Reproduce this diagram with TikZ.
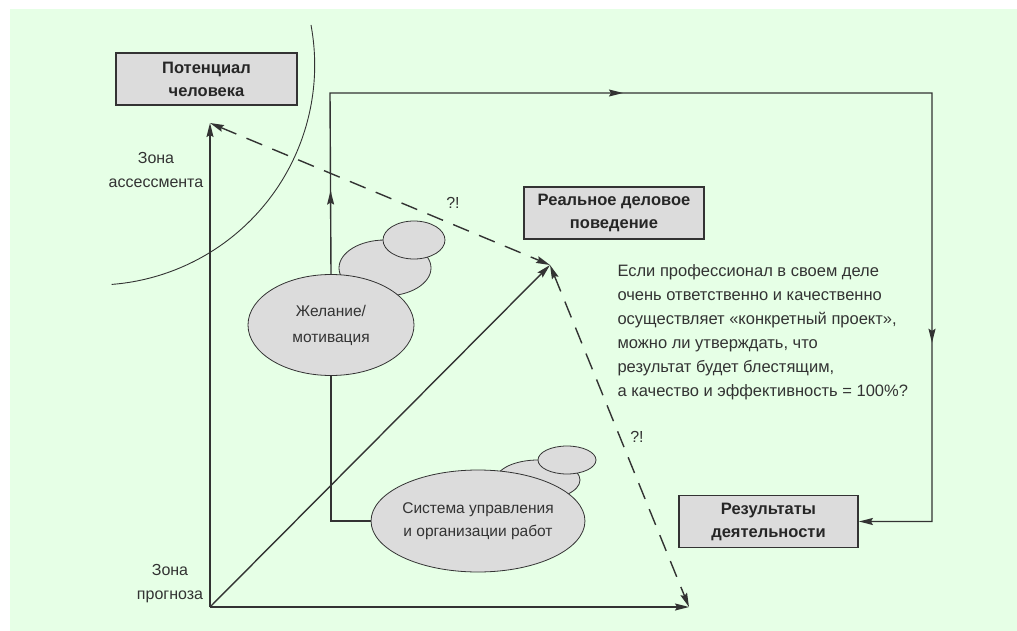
\documentclass[tikz,border=0pt]{standalone}
\usepackage{fontspec}
\setmainfont{Liberation Sans}
\usetikzlibrary{arrows.meta,decorations.markings,shapes.geometric}
\definecolor{bggreen}{HTML}{E6FFE6}
\definecolor{boxgray}{HTML}{DCDCDC}
\definecolor{linegray}{HTML}{333333}
\definecolor{textgray}{HTML}{333333}

\begin{document}
\begin{tikzpicture}[x=1pt,y=-1pt,
    font=\fontsize{16}{24}\selectfont,text=textgray,
    line/.style={draw=linegray,line width=1.4pt},
    tip/.style={-{Stealth[length=14pt,width=7pt,inset=2pt]}},
    twotips/.style={{Stealth[length=14pt,width=7pt,inset=2pt]}-{Stealth[length=14pt,width=7pt,inset=2pt]}},
    dashline/.style={line,dash pattern=on 17pt off 11pt},
    midarrows/.style={postaction={decorate},decoration={markings,
      mark=at position 0.065 with {\arrow{Stealth[length=14pt,width=7pt,inset=2pt]}},
      mark=at position 0.369 with {\arrow{Stealth[length=14pt,width=7pt,inset=2pt]}},
      mark=at position 0.804 with {\arrow{Stealth[length=14pt,width=7pt,inset=2pt]}}}},
    box/.style={draw=linegray,line width=1.8pt,fill=boxgray,align=center,
      minimum height=52pt,font=\fontsize{16.5}{23}\selectfont\bfseries,text=black!85},
    blob/.style={ellipse,draw=linegray,line width=0.8pt,fill=boxgray,inner sep=0pt,
      align=center,font=\fontsize{15.5}{26}\selectfont}]
    \useasboundingbox (0,0) rectangle (1017,631);
    \fill[bggreen] (10,9) rectangle (1017,631);

    % axes and points
    \coordinate (orig) at (210,607);
    \coordinate (pot) at (210,123);
    \coordinate (act) at (550,265);
    \coordinate (prog) at (689,607);
    \coordinate (tl) at (330,93);
    \coordinate (tr) at (932,93);

    % zone of assessment
    \draw[line,line width=0.9pt] (311,25) arc[start angle=-10.5,end angle=85.6,radius=220];

    \node[box,minimum width=181pt] (potbox) at (206.5,79) {Потенциал\\человека};
    \node[box,minimum width=180pt] (actbox) at (614,213) {Реальное деловое\\поведение};
    \node[box,minimum width=179pt] (resbox) at (768.5,521.5) {Результаты\\деятельности};

    \draw[line,tip] (orig) -- (pot);
    \draw[line,tip] (orig) -- (prog);
    \draw[line,tip] (orig) -- (act);
    \draw[dashline,twotips] (pot) -- (act);
    \draw[dashline,twotips] (act) -- (prog);

    % clouds
    \node[blob,minimum width=92pt,minimum height=56pt] (wishmid) at (385,268) {};
    \node[blob,minimum width=62pt,minimum height=38pt] (wishsmall) at (414,240) {};
    \node[blob,minimum width=166pt,minimum height=101pt] (wish) at (331,325) {Желание/\\мотивация};
    \node[blob,minimum width=84pt,minimum height=40pt] (sysmid) at (538,480) {};
    \node[blob,minimum width=58pt,minimum height=28pt] (syssmall) at (567,460) {};
    \node[blob,minimum width=210pt,minimum height=102pt,font=\fontsize{15.5}{23}\selectfont] (sys) at (478,521) {Система управления\\и организации работ};

    \draw[line] (sys.west) -| (wish.south);
    \draw[line,midarrows,tip] (wish.north) -- (tl) -- (tr) |- (resbox.east);

    \node[align=center] (zassess) at (156,170) {Зона\\ассессмента};
    \node[align=center] (zprog) at (170,584) {Зона\\прогноза};
    \node (q1) at (453,203) {?!};
    \node (q2) at (637,437) {?!};
    \node[align=left,anchor=west,font=\fontsize{16.5}{24}\selectfont] (quest) at (614,332)
      {Если профессионал в своем деле\\очень ответственно и качественно\\осуществляет «конкретный проект»,\\можно ли утверждать, что\\результат будет блестящим,\\а качество и эффективность = 100\%?};
  \end{tikzpicture}
\end{document}
